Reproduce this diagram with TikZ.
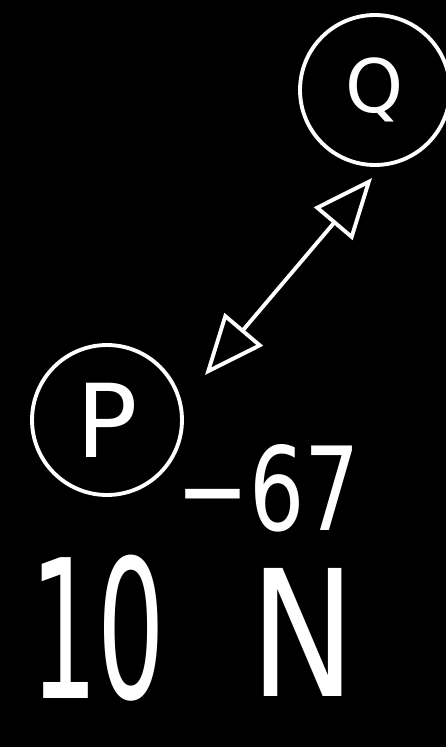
\documentclass[tikz,border=0pt]{standalone}
\usepackage{fontspec}
\usepackage{graphicx}
\setmainfont{DejaVu Sans}
\usetikzlibrary{arrows.meta}
\begin{document}
\begin{tikzpicture}[x=0.02cm, y=-0.02cm,
    ball/.style={circle, draw=white, line width=2.2pt, inner sep=0pt, minimum size=#1, text=white},
    lbl/.style={text=white, inner sep=0pt}]
  \useasboundingbox (0,0) rectangle (446,747);
  \fill[black] (0,0) rectangle (446,747);
  \node[ball=3cm, font=\fontsize{42}{42}\selectfont] (q) at (375,90) {Q};
  \node[ball=3cm, font=\fontsize{58}{58}\selectfont] (p) at (107,420) {P};
  \coordinate (pend) at (205,375);
  \coordinate (qend) at (372,178);
  \draw[white, line width=2.2pt, {Triangle[open, length=1.2cm, width=1cm]}-{Triangle[open, length=1.2cm, width=1cm]}] (pend) -- (qend);
  % value of the force
  \node[lbl, font=\fontsize{110}{110}\selectfont] (ten) at (98,628) {\scalebox{0.55}[1]{10}};
  \node[lbl, font=\fontsize{66}{66}\selectfont] (pow) at (268,488) {\scalebox{0.75}[1]{−67}};
  \node[lbl, font=\fontsize{100}{100}\selectfont] (unit) at (303,632) {\scalebox{0.8}[1]{N}};
\end{tikzpicture}
\end{document}
